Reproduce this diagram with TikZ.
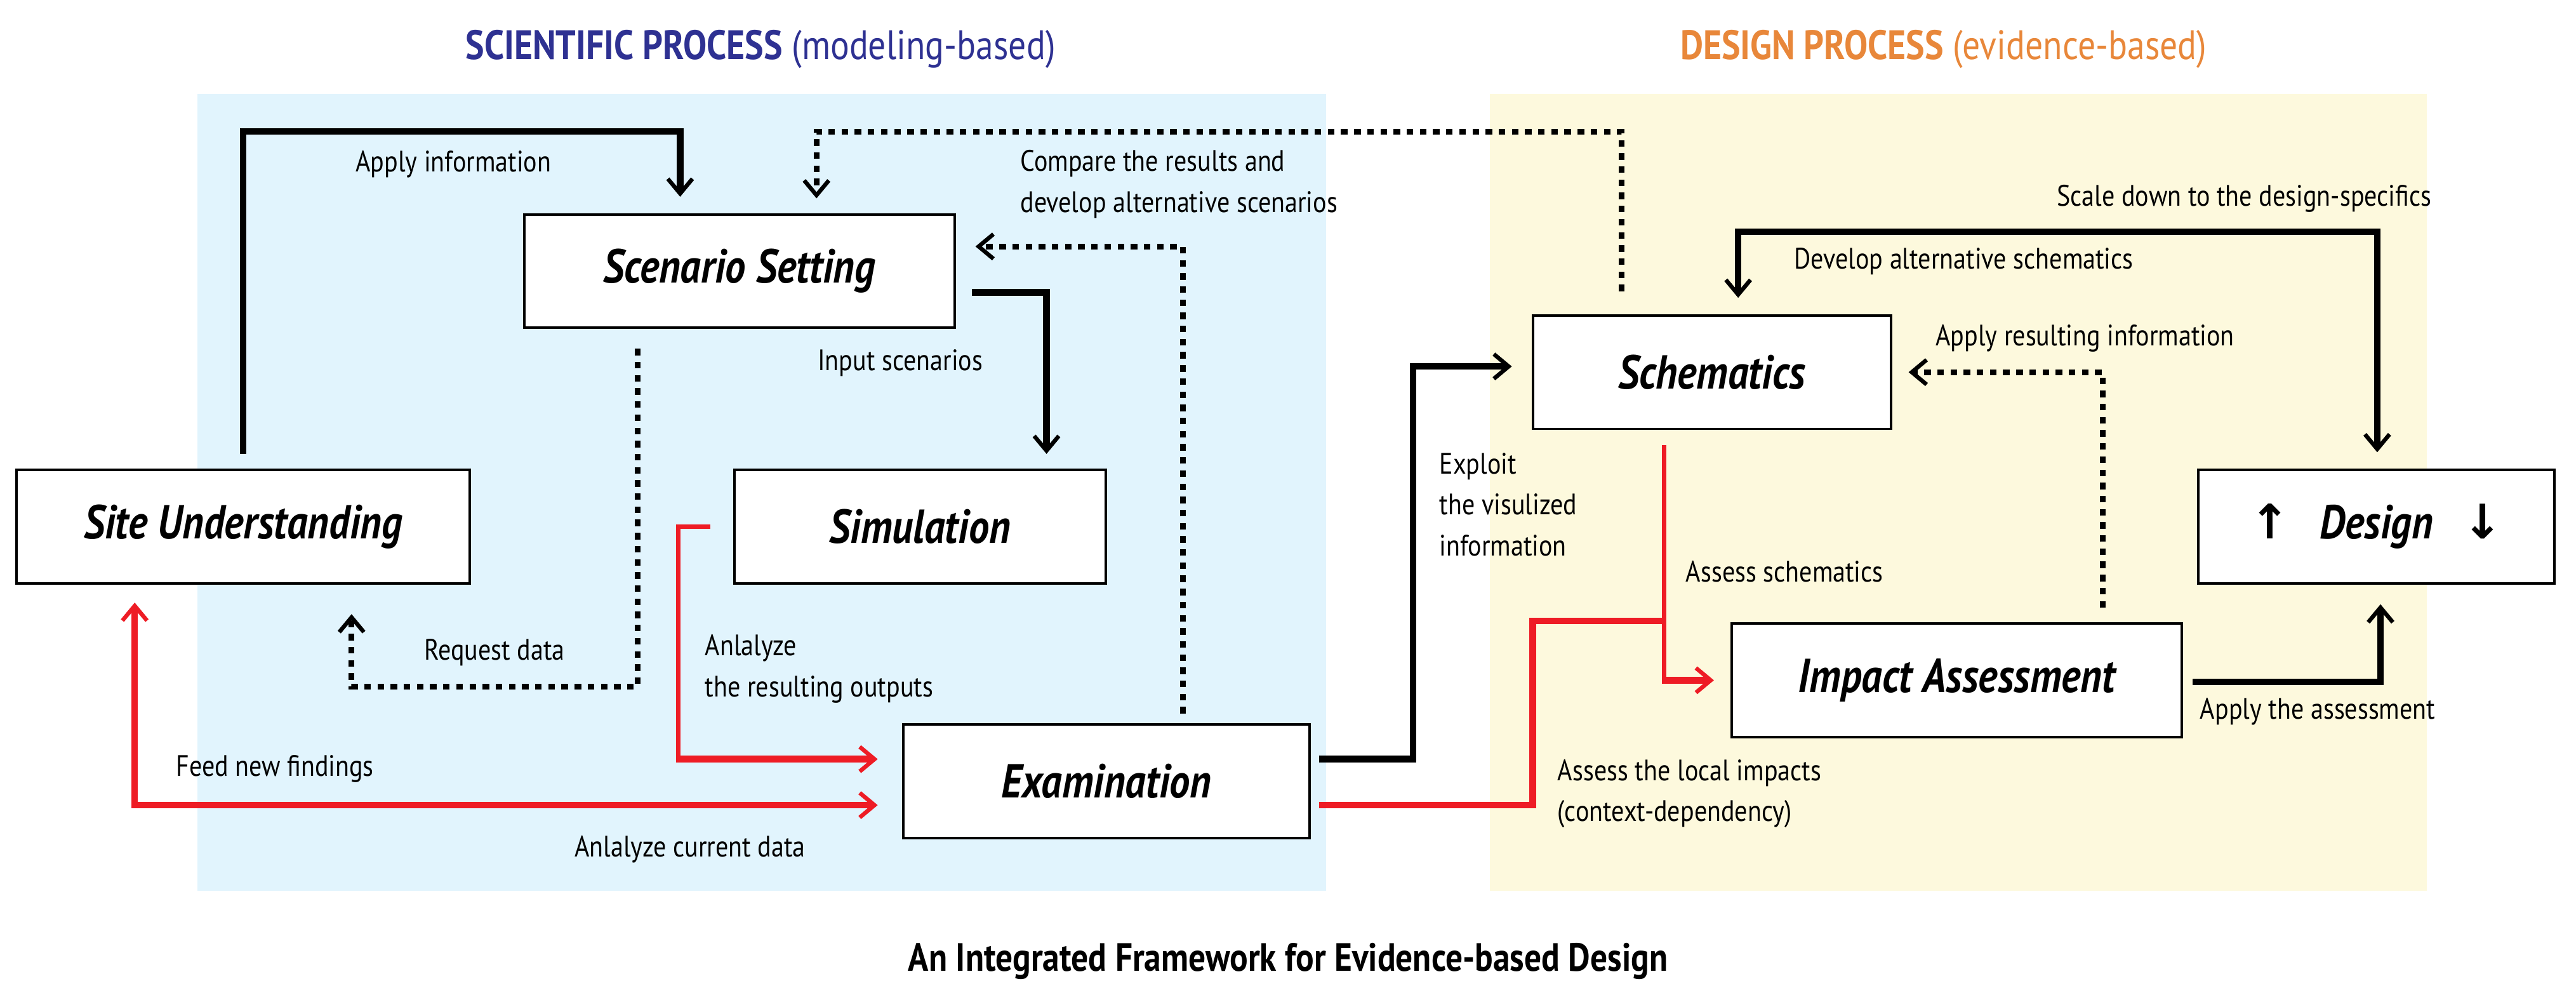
\documentclass[tikz,border=0pt]{standalone}
\usepackage{fontspec}
\setmainfont{PT Sans}[FakeStretch=0.86]
\newfontfamily\djv{DejaVu Sans}
\usetikzlibrary{arrows.meta}
\definecolor{bgblue}{HTML}{E1F4FD}
\definecolor{bgyel}{HTML}{FDF9DD}
\definecolor{tblue}{HTML}{2E3192}
\definecolor{torange}{HTML}{E8873A}
\definecolor{ared}{HTML}{EE1C25}
\begin{document}
\begin{tikzpicture}[x=1pt,y=-1pt,
  tip/.tip={Straight Barb[length=9pt,width=15pt,line width=2.5pt]},
  box/.style={draw,line width=1.5pt,fill=white,minimum height=69pt,inner sep=0pt,font=\fontsize{29}{32}\selectfont\bfseries\itshape},
  blk/.style={line width=4pt,-{tip}},
  dot/.style={line width=3.5pt,dash pattern=on 4pt off 4pt,-{tip}},
  rd/.style={line width=4pt,ared,-{tip}},
  rdt/.style={line width=2.8pt,ared},
  lbl/.style={font=\fontsize{18}{25}\selectfont,inner sep=0pt,align=left},
  hdr/.style={font=\fontsize{25}{28}\selectfont,inner sep=0pt}]
\useasboundingbox (0,0) rectangle (1568,604);
\fill[bgblue] (120,57) rectangle (807,542);
\fill[bgyel] (907,57) rectangle (1477,542);
\node[hdr,text=tblue] (h1) at (463,30) {\textbf{SCIENTIFIC PROCESS} (modeling-based)};
\node[hdr,text=torange] (h2) at (1183,30) {\textbf{DESIGN PROCESS} (evidence-based)};
\node[hdr,font=\fontsize{24}{28}\selectfont\bfseries] (tt) at (784,585) {An Integrated Framework for Evidence-based Design};
% boxes
\node[box,minimum width=276pt] (su) at (148,320.5) {Site Understanding};
\node[box,minimum width=262pt] (ss) at (450,165) {Scenario Setting};
\node[box,minimum width=226pt] (sim) at (560,320.5) {Simulation};
\node[box,minimum width=247pt] (ex) at (673.5,475.5) {Examination};
\node[box,minimum width=218pt] (sch) at (1042,226.5) {Schematics};
\node[box,minimum width=274pt] (ia) at (1191,414) {Impact Assessment};
\node[box,minimum width=217pt] (des) at (1446.5,320.5) {{\djv\bfseries\upshape ↑}\hspace{18pt}Design\hspace{18pt}{\djv\bfseries\upshape ↓}};
% connectors
\draw[blk,shorten <=9pt,shorten >=10pt] (su.north) |- ([xshift=-36pt]ss.north |- 0,80) -- ([xshift=-36pt]ss.north);
\draw[dot,shorten <=14pt,shorten >=9pt] ([xshift=-55pt]sch.north) |- ([xshift=47pt]ss.north |- 0,80) -- ([xshift=47pt]ss.north);
\draw[dot,shorten <=6pt,shorten >=12pt] ([xshift=46.5pt]ex.north) |- ([yshift=15pt]ss.east);
\draw[blk,shorten <=10pt,shorten >=9pt] ([yshift=-13pt]ss.east) -| ([xshift=77pt]sim.north);
\draw[dot,shorten <=12pt,shorten >=18pt] ([xshift=-62pt]ss.south) |- ([xshift=66pt]su.south |- 0,418) -- ([xshift=66pt]su.south);
\coordinate (c1) at (413,462);
\draw[rdt,shorten <=14pt] (sim.west) -| (c1);
\draw[rd,shorten >=15pt] ([xshift=-1.4pt]c1) -- ([yshift=13.5pt]ex.west);
\draw[rd,{tip}-{tip},shorten <=11pt,shorten >=15pt] ([xshift=-66pt]su.south) |- ([yshift=-14.5pt]ex.west);
\coordinate (c2) at (860,223);
\draw[blk,shorten <=5pt,shorten >=12pt] ([yshift=13.5pt]ex.east) -| (c2) -- ([yshift=3.5pt]sch.west);
\coordinate (c3) at (933,378);
\coordinate (c4) at (1013,378);
\draw[rd,-,shorten <=5pt] ([yshift=-14.5pt]ex.east) -| (c3) -- (c4);
\draw[rdt,shorten <=9pt] ([xshift=-29pt]sch.south) -- ([xshift=-29pt]sch.south |- 0,414);
\draw[rd,shorten >=10pt] ([xshift=-30.4pt]sch.south |- 0,414) -- (ia.west);
\draw[blk,{tip}-{tip},shorten <=10pt,shorten >=10pt] ([xshift=16pt]sch.north) |- ([xshift=0.5pt]des.north |- 0,141) -- ([xshift=0.5pt]des.north);
\draw[dot,shorten <=9pt,shorten >=10pt] ([xshift=89pt]ia.north) |- (sch.east);
\draw[blk,shorten <=6pt,shorten >=12pt] ([yshift=-1pt]ia.east) -| ([xshift=2.5pt]des.south);
% labels
\node[lbl] (l1) at (276,100) {Apply information};
\node[lbl,anchor=west] (l2) at (621,112) {Compare the results and\\develop alternative scenarios};
\node[lbl] (l3) at (548,221) {Input scenarios};
\node[lbl] (l4) at (301,397) {Request data};
\node[lbl,anchor=west] (l5) at (429,407) {Anlalyze\\the resulting outputs};
\node[lbl,anchor=west] (l6) at (107,468) {Feed new findings};
\node[lbl] (l7) at (420,517) {Anlalyze current data};
\node[lbl,anchor=west] (l8) at (876,307) {Exploit\\the visulized\\information};
\node[lbl,anchor=west] (l9) at (1026,348) {Assess schematics};
\node[lbl,anchor=west] (l10) at (948,483) {Assess the local impacts\\(context-dependency)};
\node[lbl,anchor=west] (l11) at (1339,433) {Apply the assessment};
\node[lbl] (l12) at (1366,121) {Scale down to the design-specifics};
\node[lbl,anchor=west] (l13) at (1092,159) {Develop alternative schematics};
\node[lbl,anchor=west] (l14) at (1178,206) {Apply resulting information};
\end{tikzpicture}
\end{document}
